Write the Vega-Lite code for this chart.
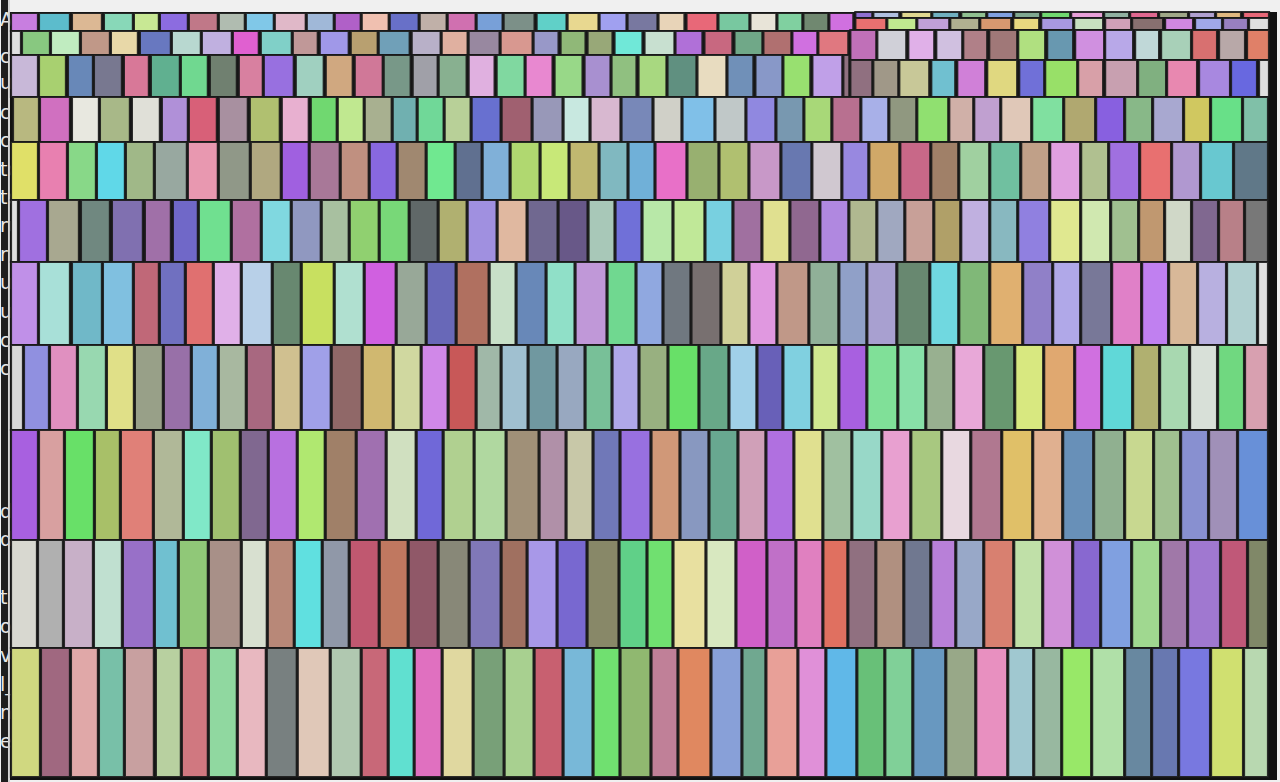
{
"$schema":"https://vega.github.io/schema/vega-lite/v6.json",
"width":1280,"height":782,
"autosize":{"type":"fit","contains":"padding"},
"padding":0,
"background":"#f0f0f0",
"config":{"view":{"stroke":null}},
"datasets":{
"rows":[{"r":"a","t":13,"u":31},{"r":"b","t":12,"u":18},{"r":"c","t":18,"u":30},{"r":"d","t":31,"u":55},{"r":"e","t":30,"u":60},{"r":"f","t":55,"u":97},{"r":"g","t":60,"u":97},{"r":"h","t":97,"u":142},{"r":"i","t":142,"u":200},{"r":"j","t":200,"u":262},{"r":"k","t":262,"u":345},{"r":"l","t":345,"u":430},{"r":"m","t":430,"u":540},{"r":"n","t":540,"u":648},{"r":"o","t":648,"u":777}],
"tiles":[
{"i":"a01","r":"a","a":10,"b":37},{"i":"a02","r":"a","a":38,"b":69},{"i":"a03","r":"a","a":71,"b":101},{"i":"a04","r":"a","a":103,"b":132},{"i":"a05","r":"a","a":133,"b":158},{"i":"a06","r":"a","a":159,"b":187},{"i":"a07","r":"a","a":188,"b":217},{"i":"a08","r":"a","a":218,"b":244},{"i":"a09","r":"a","a":245,"b":273},{"i":"a10","r":"a","a":274,"b":305},{"i":"a11","r":"a","a":306,"b":333},{"i":"a12","r":"a","a":334,"b":360},{"i":"a13","r":"a","a":361,"b":388},{"i":"a14","r":"a","a":389,"b":418},{"i":"a15","r":"a","a":419,"b":446},{"i":"a16","r":"a","a":447,"b":475},{"i":"a17","r":"a","a":476,"b":502},{"i":"a18","r":"a","a":503,"b":534},{"i":"a19","r":"a","a":536,"b":566},{"i":"a20","r":"a","a":567,"b":598},{"i":"a21","r":"a","a":599,"b":626},{"i":"a22","r":"a","a":627,"b":657},{"i":"a23","r":"a","a":658,"b":684},{"i":"a24","r":"a","a":686,"b":717},{"i":"a25","r":"a","a":718,"b":749},{"i":"a26","r":"a","a":750,"b":776},{"i":"a27","r":"a","a":777,"b":802},{"i":"a28","r":"a","a":803,"b":828},{"i":"a29","r":"a","a":829,"b":853},
{"i":"b01","r":"b","a":855,"b":872},{"i":"b02","r":"b","a":873,"b":899},{"i":"b03","r":"b","a":901,"b":931},{"i":"b04","r":"b","a":932,"b":959},{"i":"b05","r":"b","a":961,"b":986},{"i":"b06","r":"b","a":987,"b":1013},{"i":"b07","r":"b","a":1014,"b":1040},{"i":"b08","r":"b","a":1041,"b":1070},{"i":"b09","r":"b","a":1071,"b":1103},{"i":"b10","r":"b","a":1104,"b":1129},{"i":"b11","r":"b","a":1130,"b":1158},{"i":"b12","r":"b","a":1159,"b":1188},{"i":"b13","r":"b","a":1189,"b":1215},{"i":"b14","r":"b","a":1216,"b":1241},{"i":"b15","r":"b","a":1243,"b":1269},
{"i":"c01","r":"c","a":855,"b":886},{"i":"c02","r":"c","a":887,"b":916},{"i":"c03","r":"c","a":917,"b":949},{"i":"c04","r":"c","a":950,"b":979},{"i":"c05","r":"c","a":980,"b":1011},{"i":"c06","r":"c","a":1013,"b":1039},{"i":"c07","r":"c","a":1041,"b":1073},{"i":"c08","r":"c","a":1074,"b":1103},{"i":"c09","r":"c","a":1105,"b":1131},{"i":"c10","r":"c","a":1132,"b":1163},{"i":"c11","r":"c","a":1165,"b":1193},{"i":"c12","r":"c","a":1195,"b":1222},{"i":"c13","r":"c","a":1223,"b":1248},{"i":"c14","r":"c","a":1249,"b":1269},
{"i":"d01","r":"d","a":10,"b":20},{"i":"d02","r":"d","a":21,"b":49},{"i":"d03","r":"d","a":50,"b":79},{"i":"d04","r":"d","a":80,"b":109},{"i":"d05","r":"d","a":110,"b":137},{"i":"d06","r":"d","a":139,"b":170},{"i":"d07","r":"d","a":171,"b":200},{"i":"d08","r":"d","a":201,"b":231},{"i":"d09","r":"d","a":232,"b":258},{"i":"d10","r":"d","a":260,"b":291},{"i":"d11","r":"d","a":292,"b":317},{"i":"d12","r":"d","a":319,"b":348},{"i":"d13","r":"d","a":350,"b":377},{"i":"d14","r":"d","a":378,"b":409},{"i":"d15","r":"d","a":411,"b":440},{"i":"d16","r":"d","a":441,"b":467},{"i":"d17","r":"d","a":468,"b":499},{"i":"d18","r":"d","a":500,"b":532},{"i":"d19","r":"d","a":533,"b":558},{"i":"d20","r":"d","a":560,"b":585},{"i":"d21","r":"d","a":587,"b":612},{"i":"d22","r":"d","a":614,"b":642},{"i":"d23","r":"d","a":644,"b":674},{"i":"d24","r":"d","a":675,"b":702},{"i":"d25","r":"d","a":704,"b":732},{"i":"d26","r":"d","a":734,"b":762},{"i":"d27","r":"d","a":763,"b":791},{"i":"d28","r":"d","a":792,"b":817},{"i":"d29","r":"d","a":818,"b":848},
{"i":"e01","r":"e","a":850,"b":876},{"i":"e02","r":"e","a":877,"b":906},{"i":"e03","r":"e","a":908,"b":934},{"i":"e04","r":"e","a":936,"b":962},{"i":"e05","r":"e","a":963,"b":987},{"i":"e06","r":"e","a":989,"b":1017},{"i":"e07","r":"e","a":1018,"b":1045},{"i":"e08","r":"e","a":1047,"b":1073},{"i":"e09","r":"e","a":1075,"b":1104},{"i":"e10","r":"e","a":1105,"b":1133},{"i":"e11","r":"e","a":1135,"b":1159},{"i":"e12","r":"e","a":1161,"b":1191},{"i":"e13","r":"e","a":1192,"b":1217},{"i":"e14","r":"e","a":1219,"b":1245},{"i":"e15","r":"e","a":1247,"b":1269},
{"i":"f01","r":"f","a":10,"b":37},{"i":"f02","r":"f","a":38,"b":65},{"i":"f03","r":"f","a":67,"b":92},{"i":"f04","r":"f","a":93,"b":121},{"i":"f05","r":"f","a":123,"b":148},{"i":"f06","r":"f","a":150,"b":179},{"i":"f07","r":"f","a":180,"b":207},{"i":"f08","r":"f","a":209,"b":236},{"i":"f09","r":"f","a":238,"b":262},{"i":"f10","r":"f","a":263,"b":293},{"i":"f11","r":"f","a":295,"b":323},{"i":"f12","r":"f","a":325,"b":352},{"i":"f13","r":"f","a":354,"b":382},{"i":"f14","r":"f","a":383,"b":410},{"i":"f15","r":"f","a":412,"b":437},{"i":"f16","r":"f","a":438,"b":466},{"i":"f17","r":"f","a":468,"b":494},{"i":"f18","r":"f","a":496,"b":524},{"i":"f19","r":"f","a":525,"b":552},{"i":"f20","r":"f","a":554,"b":582},{"i":"f21","r":"f","a":584,"b":610},{"i":"f22","r":"f","a":611,"b":636},{"i":"f23","r":"f","a":638,"b":666},{"i":"f24","r":"f","a":667,"b":696},{"i":"f25","r":"f","a":697,"b":726},{"i":"f26","r":"f","a":727,"b":753},{"i":"f27","r":"f","a":755,"b":782},{"i":"f28","r":"f","a":783,"b":810},{"i":"f29","r":"f","a":812,"b":842},{"i":"f30","r":"f","a":843,"b":849},
{"i":"g01","r":"g","a":850,"b":872},{"i":"g02","r":"g","a":873,"b":898},{"i":"g03","r":"g","a":899,"b":929},{"i":"g04","r":"g","a":931,"b":955},{"i":"g05","r":"g","a":957,"b":985},{"i":"g06","r":"g","a":987,"b":1017},{"i":"g07","r":"g","a":1019,"b":1044},{"i":"g08","r":"g","a":1045,"b":1077},{"i":"g09","r":"g","a":1078,"b":1103},{"i":"g10","r":"g","a":1105,"b":1137},{"i":"g11","r":"g","a":1138,"b":1166},{"i":"g12","r":"g","a":1167,"b":1197},{"i":"g13","r":"g","a":1199,"b":1230},{"i":"g14","r":"g","a":1231,"b":1257},{"i":"g15","r":"g","a":1259,"b":1269},
{"i":"h01","r":"h","a":12,"b":38},{"i":"h02","r":"h","a":39,"b":69},{"i":"h03","r":"h","a":71,"b":98},{"i":"h04","r":"h","a":99,"b":129},{"i":"h05","r":"h","a":131,"b":159},{"i":"h06","r":"h","a":161,"b":187},{"i":"h07","r":"h","a":188,"b":216},{"i":"h08","r":"h","a":218,"b":247},{"i":"h09","r":"h","a":249,"b":279},{"i":"h10","r":"h","a":281,"b":308},{"i":"h11","r":"h","a":310,"b":336},{"i":"h12","r":"h","a":337,"b":363},{"i":"h13","r":"h","a":364,"b":391},{"i":"h14","r":"h","a":392,"b":416},{"i":"h15","r":"h","a":417,"b":443},{"i":"h16","r":"h","a":444,"b":470},{"i":"h17","r":"h","a":471,"b":500},{"i":"h18","r":"h","a":501,"b":531},{"i":"h19","r":"h","a":532,"b":562},{"i":"h20","r":"h","a":563,"b":589},{"i":"h21","r":"h","a":590,"b":620},{"i":"h22","r":"h","a":621,"b":652},{"i":"h23","r":"h","a":653,"b":681},{"i":"h24","r":"h","a":682,"b":714},{"i":"h25","r":"h","a":715,"b":745},{"i":"h26","r":"h","a":746,"b":775},{"i":"h27","r":"h","a":776,"b":803},{"i":"h28","r":"h","a":804,"b":831},{"i":"h29","r":"h","a":832,"b":860},{"i":"h30","r":"h","a":861,"b":888},{"i":"h31","r":"h","a":889,"b":916},{"i":"h32","r":"h","a":917,"b":948},{"i":"h33","r":"h","a":949,"b":973},{"i":"h34","r":"h","a":974,"b":1000},{"i":"h35","r":"h","a":1001,"b":1031},{"i":"h36","r":"h","a":1032,"b":1063},{"i":"h37","r":"h","a":1064,"b":1095},{"i":"h38","r":"h","a":1096,"b":1124},{"i":"h39","r":"h","a":1125,"b":1152},{"i":"h40","r":"h","a":1153,"b":1183},{"i":"h41","r":"h","a":1184,"b":1210},{"i":"h42","r":"h","a":1211,"b":1242},{"i":"h43","r":"h","a":1243,"b":1268},
{"i":"i01","r":"i","a":10,"b":37},{"i":"i02","r":"i","a":38,"b":66},{"i":"i03","r":"i","a":67,"b":95},{"i":"i04","r":"i","a":96,"b":124},{"i":"i05","r":"i","a":125,"b":153},{"i":"i06","r":"i","a":154,"b":186},{"i":"i07","r":"i","a":187,"b":217},{"i":"i08","r":"i","a":218,"b":249},{"i":"i09","r":"i","a":250,"b":280},{"i":"i10","r":"i","a":281,"b":308},{"i":"i11","r":"i","a":309,"b":339},{"i":"i12","r":"i","a":340,"b":368},{"i":"i13","r":"i","a":369,"b":396},{"i":"i14","r":"i","a":397,"b":425},{"i":"i15","r":"i","a":426,"b":454},{"i":"i16","r":"i","a":455,"b":481},{"i":"i17","r":"i","a":482,"b":509},{"i":"i18","r":"i","a":510,"b":539},{"i":"i19","r":"i","a":540,"b":568},{"i":"i20","r":"i","a":569,"b":598},{"i":"i21","r":"i","a":599,"b":627},{"i":"i22","r":"i","a":628,"b":654},{"i":"i23","r":"i","a":655,"b":686},{"i":"i24","r":"i","a":687,"b":718},{"i":"i25","r":"i","a":719,"b":748},{"i":"i26","r":"i","a":749,"b":780},{"i":"i27","r":"i","a":781,"b":811},{"i":"i28","r":"i","a":812,"b":841},{"i":"i29","r":"i","a":842,"b":868},{"i":"i30","r":"i","a":869,"b":899},{"i":"i31","r":"i","a":900,"b":930},{"i":"i32","r":"i","a":931,"b":958},{"i":"i33","r":"i","a":959,"b":989},{"i":"i34","r":"i","a":990,"b":1020},{"i":"i35","r":"i","a":1021,"b":1049},{"i":"i36","r":"i","a":1050,"b":1080},{"i":"i37","r":"i","a":1081,"b":1108},{"i":"i38","r":"i","a":1109,"b":1139},{"i":"i39","r":"i","a":1140,"b":1171},{"i":"i40","r":"i","a":1172,"b":1200},{"i":"i41","r":"i","a":1201,"b":1233},{"i":"i42","r":"i","a":1234,"b":1268},
{"i":"j01","r":"j","a":10,"b":17},{"i":"j02","r":"j","a":18,"b":46},{"i":"j03","r":"j","a":47,"b":78},{"i":"j04","r":"j","a":80,"b":109},{"i":"j05","r":"j","a":111,"b":142},{"i":"j06","r":"j","a":144,"b":170},{"i":"j07","r":"j","a":172,"b":197},{"i":"j08","r":"j","a":198,"b":230},{"i":"j09","r":"j","a":231,"b":260},{"i":"j10","r":"j","a":261,"b":290},{"i":"j11","r":"j","a":291,"b":320},{"i":"j12","r":"j","a":321,"b":348},{"i":"j13","r":"j","a":349,"b":378},{"i":"j14","r":"j","a":379,"b":408},{"i":"j15","r":"j","a":409,"b":437},{"i":"j16","r":"j","a":438,"b":466},{"i":"j17","r":"j","a":467,"b":496},{"i":"j18","r":"j","a":497,"b":526},{"i":"j19","r":"j","a":527,"b":557},{"i":"j20","r":"j","a":558,"b":587},{"i":"j21","r":"j","a":588,"b":614},{"i":"j22","r":"j","a":615,"b":641},{"i":"j23","r":"j","a":642,"b":672},{"i":"j24","r":"j","a":673,"b":704},{"i":"j25","r":"j","a":705,"b":732},{"i":"j26","r":"j","a":733,"b":761},{"i":"j27","r":"j","a":762,"b":789},{"i":"j28","r":"j","a":790,"b":819},{"i":"j29","r":"j","a":820,"b":848},{"i":"j30","r":"j","a":849,"b":876},{"i":"j31","r":"j","a":877,"b":904},{"i":"j32","r":"j","a":905,"b":933},{"i":"j33","r":"j","a":934,"b":960},{"i":"j34","r":"j","a":961,"b":989},{"i":"j35","r":"j","a":990,"b":1017},{"i":"j36","r":"j","a":1018,"b":1049},{"i":"j37","r":"j","a":1050,"b":1080},{"i":"j38","r":"j","a":1081,"b":1110},{"i":"j39","r":"j","a":1111,"b":1138},{"i":"j40","r":"j","a":1139,"b":1164},{"i":"j41","r":"j","a":1165,"b":1191},{"i":"j42","r":"j","a":1192,"b":1218},{"i":"j43","r":"j","a":1219,"b":1244},{"i":"j44","r":"j","a":1245,"b":1268},
{"i":"k01","r":"k","a":10,"b":37},{"i":"k02","r":"k","a":38,"b":69},{"i":"k03","r":"k","a":71,"b":101},{"i":"k04","r":"k","a":102,"b":132},{"i":"k05","r":"k","a":133,"b":158},{"i":"k06","r":"k","a":159,"b":184},{"i":"k07","r":"k","a":185,"b":212},{"i":"k08","r":"k","a":213,"b":240},{"i":"k09","r":"k","a":241,"b":271},{"i":"k10","r":"k","a":272,"b":300},{"i":"k11","r":"k","a":301,"b":333},{"i":"k12","r":"k","a":334,"b":363},{"i":"k13","r":"k","a":364,"b":395},{"i":"k14","r":"k","a":396,"b":425},{"i":"k15","r":"k","a":426,"b":455},{"i":"k16","r":"k","a":456,"b":488},{"i":"k17","r":"k","a":489,"b":515},{"i":"k18","r":"k","a":516,"b":545},{"i":"k19","r":"k","a":546,"b":574},{"i":"k20","r":"k","a":575,"b":606},{"i":"k21","r":"k","a":607,"b":635},{"i":"k22","r":"k","a":636,"b":662},{"i":"k23","r":"k","a":663,"b":690},{"i":"k24","r":"k","a":691,"b":720},{"i":"k25","r":"k","a":721,"b":748},{"i":"k26","r":"k","a":749,"b":776},{"i":"k27","r":"k","a":777,"b":808},{"i":"k28","r":"k","a":809,"b":838},{"i":"k29","r":"k","a":839,"b":866},{"i":"k30","r":"k","a":867,"b":896},{"i":"k31","r":"k","a":897,"b":929},{"i":"k32","r":"k","a":930,"b":958},{"i":"k33","r":"k","a":959,"b":989},{"i":"k34","r":"k","a":990,"b":1022},{"i":"k35","r":"k","a":1023,"b":1052},{"i":"k36","r":"k","a":1053,"b":1080},{"i":"k37","r":"k","a":1081,"b":1111},{"i":"k38","r":"k","a":1112,"b":1141},{"i":"k39","r":"k","a":1142,"b":1168},{"i":"k40","r":"k","a":1169,"b":1197},{"i":"k41","r":"k","a":1198,"b":1226},{"i":"k42","r":"k","a":1227,"b":1257},{"i":"k43","r":"k","a":1258,"b":1268},
{"i":"l01","r":"l","a":10,"b":22},{"i":"l02","r":"l","a":23,"b":48},{"i":"l03","r":"l","a":49,"b":76},{"i":"l04","r":"l","a":77,"b":105},{"i":"l05","r":"l","a":106,"b":133},{"i":"l06","r":"l","a":134,"b":162},{"i":"l07","r":"l","a":163,"b":190},{"i":"l08","r":"l","a":191,"b":217},{"i":"l09","r":"l","a":218,"b":245},{"i":"l10","r":"l","a":246,"b":272},{"i":"l11","r":"l","a":273,"b":300},{"i":"l12","r":"l","a":301,"b":330},{"i":"l13","r":"l","a":331,"b":361},{"i":"l14","r":"l","a":362,"b":392},{"i":"l15","r":"l","a":393,"b":420},{"i":"l16","r":"l","a":421,"b":447},{"i":"l17","r":"l","a":448,"b":475},{"i":"l18","r":"l","a":476,"b":500},{"i":"l19","r":"l","a":501,"b":527},{"i":"l20","r":"l","a":528,"b":556},{"i":"l21","r":"l","a":557,"b":584},{"i":"l22","r":"l","a":585,"b":611},{"i":"l23","r":"l","a":612,"b":638},{"i":"l24","r":"l","a":639,"b":667},{"i":"l25","r":"l","a":668,"b":698},{"i":"l26","r":"l","a":699,"b":728},{"i":"l27","r":"l","a":729,"b":756},{"i":"l28","r":"l","a":757,"b":782},{"i":"l29","r":"l","a":783,"b":811},{"i":"l30","r":"l","a":812,"b":838},{"i":"l31","r":"l","a":839,"b":866},{"i":"l32","r":"l","a":867,"b":897},{"i":"l33","r":"l","a":898,"b":925},{"i":"l34","r":"l","a":926,"b":953},{"i":"l35","r":"l","a":954,"b":983},{"i":"l36","r":"l","a":984,"b":1014},{"i":"l37","r":"l","a":1015,"b":1043},{"i":"l38","r":"l","a":1044,"b":1074},{"i":"l39","r":"l","a":1075,"b":1101},{"i":"l40","r":"l","a":1102,"b":1132},{"i":"l41","r":"l","a":1133,"b":1159},{"i":"l42","r":"l","a":1160,"b":1189},{"i":"l43","r":"l","a":1190,"b":1217},{"i":"l44","r":"l","a":1218,"b":1244},{"i":"l45","r":"l","a":1245,"b":1268},
{"i":"m01","r":"m","a":10,"b":37},{"i":"m02","r":"m","a":38,"b":63},{"i":"m03","r":"m","a":64,"b":93},{"i":"m04","r":"m","a":94,"b":119},{"i":"m05","r":"m","a":120,"b":152},{"i":"m06","r":"m","a":153,"b":182},{"i":"m07","r":"m","a":183,"b":210},{"i":"m08","r":"m","a":211,"b":239},{"i":"m09","r":"m","a":240,"b":267},{"i":"m10","r":"m","a":268,"b":296},{"i":"m11","r":"m","a":297,"b":324},{"i":"m12","r":"m","a":325,"b":355},{"i":"m13","r":"m","a":356,"b":385},{"i":"m14","r":"m","a":386,"b":415},{"i":"m15","r":"m","a":416,"b":442},{"i":"m16","r":"m","a":443,"b":473},{"i":"m17","r":"m","a":474,"b":505},{"i":"m18","r":"m","a":506,"b":538},{"i":"m19","r":"m","a":539,"b":565},{"i":"m20","r":"m","a":566,"b":592},{"i":"m21","r":"m","a":593,"b":619},{"i":"m22","r":"m","a":620,"b":650},{"i":"m23","r":"m","a":651,"b":679},{"i":"m24","r":"m","a":680,"b":708},{"i":"m25","r":"m","a":709,"b":737},{"i":"m26","r":"m","a":738,"b":765},{"i":"m27","r":"m","a":766,"b":793},{"i":"m28","r":"m","a":794,"b":822},{"i":"m29","r":"m","a":823,"b":851},{"i":"m30","r":"m","a":852,"b":881},{"i":"m31","r":"m","a":882,"b":910},{"i":"m32","r":"m","a":911,"b":941},{"i":"m33","r":"m","a":942,"b":970},{"i":"m34","r":"m","a":971,"b":1001},{"i":"m35","r":"m","a":1002,"b":1032},{"i":"m36","r":"m","a":1033,"b":1062},{"i":"m37","r":"m","a":1063,"b":1093},{"i":"m38","r":"m","a":1094,"b":1124},{"i":"m39","r":"m","a":1125,"b":1153},{"i":"m40","r":"m","a":1154,"b":1180},{"i":"m41","r":"m","a":1181,"b":1208},{"i":"m42","r":"m","a":1209,"b":1237},{"i":"m43","r":"m","a":1238,"b":1268},
{"i":"n01","r":"n","a":10,"b":36},{"i":"n02","r":"n","a":37,"b":62},{"i":"n03","r":"n","a":63,"b":92},{"i":"n04","r":"n","a":93,"b":121},{"i":"n05","r":"n","a":122,"b":153},{"i":"n06","r":"n","a":154,"b":177},{"i":"n07","r":"n","a":178,"b":207},{"i":"n08","r":"n","a":208,"b":240},{"i":"n09","r":"n","a":241,"b":266},{"i":"n10","r":"n","a":267,"b":293},{"i":"n11","r":"n","a":294,"b":321},{"i":"n12","r":"n","a":322,"b":348},{"i":"n13","r":"n","a":349,"b":378},{"i":"n14","r":"n","a":379,"b":407},{"i":"n15","r":"n","a":408,"b":437},{"i":"n16","r":"n","a":438,"b":468},{"i":"n17","r":"n","a":469,"b":500},{"i":"n18","r":"n","a":501,"b":526},{"i":"n19","r":"n","a":527,"b":556},{"i":"n20","r":"n","a":557,"b":586},{"i":"n21","r":"n","a":587,"b":618},{"i":"n22","r":"n","a":619,"b":646},{"i":"n23","r":"n","a":647,"b":672},{"i":"n24","r":"n","a":673,"b":705},{"i":"n25","r":"n","a":706,"b":735},{"i":"n26","r":"n","a":736,"b":766},{"i":"n27","r":"n","a":767,"b":795},{"i":"n28","r":"n","a":796,"b":822},{"i":"n29","r":"n","a":823,"b":847},{"i":"n30","r":"n","a":848,"b":875},{"i":"n31","r":"n","a":876,"b":903},{"i":"n32","r":"n","a":904,"b":930},{"i":"n33","r":"n","a":931,"b":955},{"i":"n34","r":"n","a":956,"b":983},{"i":"n35","r":"n","a":984,"b":1013},{"i":"n36","r":"n","a":1014,"b":1042},{"i":"n37","r":"n","a":1043,"b":1072},{"i":"n38","r":"n","a":1073,"b":1100},{"i":"n39","r":"n","a":1101,"b":1131},{"i":"n40","r":"n","a":1132,"b":1160},{"i":"n41","r":"n","a":1161,"b":1187},{"i":"n42","r":"n","a":1188,"b":1220},{"i":"n43","r":"n","a":1221,"b":1247},{"i":"n44","r":"n","a":1248,"b":1268},
{"i":"o01","r":"o","a":10,"b":39},{"i":"o02","r":"o","a":40,"b":69},{"i":"o03","r":"o","a":70,"b":97},{"i":"o04","r":"o","a":98,"b":123},{"i":"o05","r":"o","a":124,"b":153},{"i":"o06","r":"o","a":155,"b":180},{"i":"o07","r":"o","a":181,"b":207},{"i":"o08","r":"o","a":208,"b":236},{"i":"o09","r":"o","a":237,"b":265},{"i":"o10","r":"o","a":266,"b":296},{"i":"o11","r":"o","a":297,"b":329},{"i":"o12","r":"o","a":330,"b":360},{"i":"o13","r":"o","a":361,"b":387},{"i":"o14","r":"o","a":388,"b":413},{"i":"o15","r":"o","a":414,"b":441},{"i":"o16","r":"o","a":442,"b":472},{"i":"o17","r":"o","a":473,"b":503},{"i":"o18","r":"o","a":504,"b":533},{"i":"o19","r":"o","a":534,"b":562},{"i":"o20","r":"o","a":563,"b":592},{"i":"o21","r":"o","a":593,"b":619},{"i":"o22","r":"o","a":620,"b":650},{"i":"o23","r":"o","a":651,"b":677},{"i":"o24","r":"o","a":678,"b":710},{"i":"o25","r":"o","a":711,"b":741},{"i":"o26","r":"o","a":742,"b":765},{"i":"o27","r":"o","a":766,"b":797},{"i":"o28","r":"o","a":798,"b":825},{"i":"o29","r":"o","a":826,"b":856},{"i":"o30","r":"o","a":857,"b":884},{"i":"o31","r":"o","a":885,"b":912},{"i":"o32","r":"o","a":913,"b":945},{"i":"o33","r":"o","a":946,"b":975},{"i":"o34","r":"o","a":976,"b":1007},{"i":"o35","r":"o","a":1008,"b":1033},{"i":"o36","r":"o","a":1034,"b":1061},{"i":"o37","r":"o","a":1062,"b":1091},{"i":"o38","r":"o","a":1092,"b":1124},{"i":"o39","r":"o","a":1125,"b":1151},{"i":"o40","r":"o","a":1152,"b":1178},{"i":"o41","r":"o","a":1179,"b":1210},{"i":"o42","r":"o","a":1211,"b":1243},{"i":"o43","r":"o","a":1244,"b":1268}
]},
"layer":[
{"data":{"values":[{"a":9,"b":1277,"t":12,"u":780}]},"mark":{"type":"rect","color":"#111111"},
 "encoding":{"x":{"field":"a","type":"quantitative","scale":{"domain":[0,1280],"nice":false,"zero":false},"axis":null},"x2":{"field":"b"},
 "y":{"field":"t","type":"quantitative","scale":{"domain":[0,782],"reverse":true,"nice":false,"zero":false},"axis":null},"y2":{"field":"u"}}},
{"data":{"values":[{"a":0,"b":7,"t":0,"u":782}]},"mark":{"type":"rect","color":"#1e1e1e"},
 "encoding":{"x":{"field":"a","type":"quantitative"},"x2":{"field":"b"},"y":{"field":"t","type":"quantitative"},"y2":{"field":"u"}}},
{"data":{"values":[{"s":"A","y":20},{"s":"ca","y":57},{"s":"u","y":83},{"s":"c","y":113},{"s":"c","y":141},{"s":"to","y":170},{"s":"to","y":198},{"s":"ru","y":226},{"s":"ru","y":255},{"s":"ua","y":283},{"s":"ua","y":312},{"s":"c","y":341},{"s":"c","y":369},{"s":"d","y":512},{"s":"d","y":540},{"s":"t","y":598},{"s":"or","y":627},{"s":"v","y":656},{"s":"l_","y":685},{"s":"n","y":713},{"s":"e","y":742}]},
 "mark":{"type":"text","align":"left","baseline":"middle","fontSize":19,"font":"DejaVu Sans","color":"#e8e8e8"},
 "encoding":{"x":{"datum":-1,"type":"quantitative"},"y":{"field":"y","type":"quantitative"},"text":{"field":"s"}}},
{"data":{"values":[{"a":7,"b":9,"t":0,"u":782}]},"mark":{"type":"rect","color":"#d4d4d4"},
 "encoding":{"x":{"field":"a","type":"quantitative"},"x2":{"field":"b"},"y":{"field":"t","type":"quantitative"},"y2":{"field":"u"}}},
{"data":{"name":"tiles"},
 "transform":[{"lookup":"r","from":{"data":{"name":"rows"},"key":"r","fields":["t","u"]}}],
 "mark":{"type":"rect","stroke":"#181818","strokeWidth":2.2,"strokeOpacity":0.9},
 "encoding":{"x":{"field":"a","type":"quantitative"},"x2":{"field":"b"},"y":{"field":"t","type":"quantitative"},"y2":{"field":"u"},
 "color":{"field":"i","type":"nominal","sort":"ascending","legend":null,"scale":{"range":[
"#c87ee0","#5cbccc","#dcb894","#88d8b8","#c8e894","#8c6ce0","#c07888","#b0bcb0","#80c8e8","#e0b8c8","#a0b8d8","#b060c8","#f0c0b0","#6870c8","#c0b0a8","#d070b0","#78a0d8","#7c9088","#60d0c8","#e8d890","#a0a0f0","#7878a0","#e8d4b8","#e86878","#78c8a0","#e8e4d8","#80d0a0","#708870","#d070e0",
"#9070d0","#b0c0e0","#e0d890","#70b0c0","#90c090","#80a0e0","#80a890","#70d870","#e8a0d8","#90b0a0","#e06890","#a0a888","#b0a0d0","#e0b880","#e86878",
"#e87070","#c0e890","#c0a0d8","#b0b090","#d89870","#e8d880","#a898e0","#c8e0c0","#d0a0b8","#887070","#d088e0","#a0a8e8","#9880c0","#e0e0e0",
"#e0e0e0","#88c880","#c0ecc0","#c09888","#e8d8a8","#6878c0","#b8d8d0","#c0b0e0","#e060d0","#80d0c8","#c09898","#a098e8","#b8a070","#70a0b8","#b8b0c8","#e0b0a0","#9888a0","#d89890","#9898c8","#90b878","#98a878","#70e8d8","#c8e0d0","#b070d8","#c86880","#70a888","#b07070","#d070e0","#e07880",
"#c070b8","#d0d0d8","#e0b0e8","#d0c0e0","#b08088","#a07878","#b0e080","#6898b0","#d090e0","#b8a8e8","#c0d8d8","#a8d0b8","#d87070","#b8a8a8","#e08068",
"#c8b8d8","#a8d070","#6888b8","#787890","#d87898","#60b090","#70d890","#708070","#d880a0","#9870e0","#a0d0c0","#d0a880","#d07898","#789888","#a0a0a8","#88b090","#e0b0e0","#80d8a0","#e888d0","#98d888","#a890d0","#90c080","#a8d880","#609080","#e8dcc0","#7090b8","#8898c8","#98e070","#c0a0e8","#907080",
"#907080","#a09888","#c8c898","#70c0d0","#d080d8","#e0d880","#7070d8","#98e068","#d8a0a8","#c8a0b0","#80b080","#e888b0","#a888e0","#6868e0","#e0e0e0",
"#b8b880","#d070c0","#e8e8e0","#a8b888","#e0e0d8","#b090d8","#d86078","#a890a0","#b0c070","#e8b0d0","#70d870","#c0e890","#a8b090","#70b0b0","#70d898","#b8d098","#6870d0","#a06070","#9898b8","#c8e8e0","#d8b8d0","#7888b8","#d0d0c8","#80c0e8","#c0c8c8","#9088e0","#7898b0","#a8d878","#b87090","#a8b0e8","#909880","#90e070","#d0b0a8","#c0a0d0","#e0c8b8","#80e0a0","#b0a870","#8860e0","#88b888","#a8a8d0","#d0c860","#68e088","#80c0a8",
"#e0e068","#e880b0","#88d888","#60d8e8","#a0b888","#98a8a0","#e898b0","#909888","#b0a880","#a060e0","#a87898","#c09080","#8868e0","#a08870","#70e890","#607090","#80b0d8","#b0d870","#c8e878","#c0b870","#80b8c0","#70b0d8","#e870c8","#98b070","#b0c070","#c898c8","#6878b0","#d0c8d0","#9888e0","#d0a868","#c86888","#a08068","#a0d0a0","#70c0a0","#c0a088","#e0a0e0","#b0c090","#a070e0","#e87070","#b098d0","#68c8d0","#607888",
"#e0e0e0","#a070e0","#a8a890","#708880","#8070b0","#a070a8","#7068c8","#70e090","#b070a0","#80d8e0","#9098c0","#a8c0a0","#90d070","#78d878","#606868","#b0b070","#a090e0","#e0b8a0","#706890","#685888","#a8c8b8","#7070d8","#b8e8a8","#c0e898","#78d0e0","#a070a0","#e0e090","#906890","#b088e0","#b0b890","#a0a8c0","#c8a098","#b0a068","#c0b0e0","#88b8c0","#9080e0","#e0e890","#d0e8b0","#a0c090","#c09870","#d0d8c8","#806890","#b88088","#787878",
"#c090e8","#a8e0d8","#70b8c8","#80c0e0","#c06878","#7070c0","#e07070","#e0b0e8","#b8d0e8","#688870","#c8e060","#b0e0d0","#d060e0","#98a898","#6868b8","#b07060","#c8e0c8","#6888b8","#90e0c8","#c098d8","#70d890","#90a8e0","#707880","#787070","#d0d098","#e098e0","#c09888","#90b098","#90a0c8","#a8a0d0","#688870","#70d8e0","#80b878","#e0b070","#9080c8","#b0a8e8","#787898","#e080c8","#c080f0","#d8b898","#b8b0e0","#b0d0d0","#e0e0e0",
"#d8d8d8","#9090e0","#e090c0","#98d8b0","#e0e088","#98a088","#9870a8","#80b0d8","#a8b8a0","#a86880","#d0c090","#a0a0e8","#906868","#d0b870","#d0d8a0","#d088e8","#c85858","#a0b8a8","#a0c0d0","#7098a0","#98a8c0","#78c098","#b0a8e8","#98b080","#68e068","#68a888","#a0d0e8","#6860b8","#80d0e0","#d0e890","#a860e0","#80e098","#88e0a8","#98b090","#e8a8d8","#689870","#d8e880","#e0a870","#d070e0","#60d8d8","#b0b070","#a8d8b0","#d8e0d8","#70d880","#d8a0b0",
"#a860e0","#d8a0a0","#68e068","#a8c068","#e08078","#b0b898","#80e8c8","#a0c070","#806890","#b870e0","#b0e870","#a08068","#a070b0","#d0e0c0","#7068d8","#b0d090","#b0d8a0","#a09078","#b090a8","#c8c8a8","#7078b8","#9870e0","#d09878","#8898c0","#68a890","#d0a0b8","#b070e0","#e0e090","#a0c0a0","#98d8c8","#e8a0d0","#a8c880","#e8d8e0","#b07890","#e0c068","#e0b090","#6890b8","#90b090","#c8d890","#a0c090","#8890d0","#a090b8","#6890d8",
"#d8d8d0","#b0b0b0","#c8b0c8","#c0e0d0","#9870c8","#70c0d0","#90c878","#a89088","#d8e0d0","#b88878","#60e0e0","#9098a8","#c05870","#c07860","#905868","#888878","#8078b8","#a07060","#a898e8","#7868d0","#888868","#60d088","#70e070","#e8e0a0","#d8e8c0","#d060c8","#c070c8","#e080c0","#e07060","#907080","#b09080","#707890","#b880d8","#98a8c8","#d88070","#c0e0a8","#d090d8","#8868d0","#80a0e0","#a0d890","#a078a8","#a078d0","#c05878","#808868",
"#d0d880","#a06880","#e0a8a8","#78c0a8","#c8a0a0","#b8d0a0","#d07880","#90d8a0","#e8b8c0","#788080","#e0c8b8","#b0c8b0","#c86878","#60e0d0","#e070c0","#e0d8a0","#78a078","#a8d090","#c86070","#78b8d8","#70e070","#90b870","#c08098","#e08860","#88a0d8","#70a890","#e8a098","#e090d8","#60b8e8","#68c078","#80d098","#6898c0","#98a888","#e890c0","#a0c8d0","#98b8a0","#98e868","#b0e0a8","#6888a0","#6878b0","#7878e0","#d0e070","#b8d8b0"
]}}}}
]
}
